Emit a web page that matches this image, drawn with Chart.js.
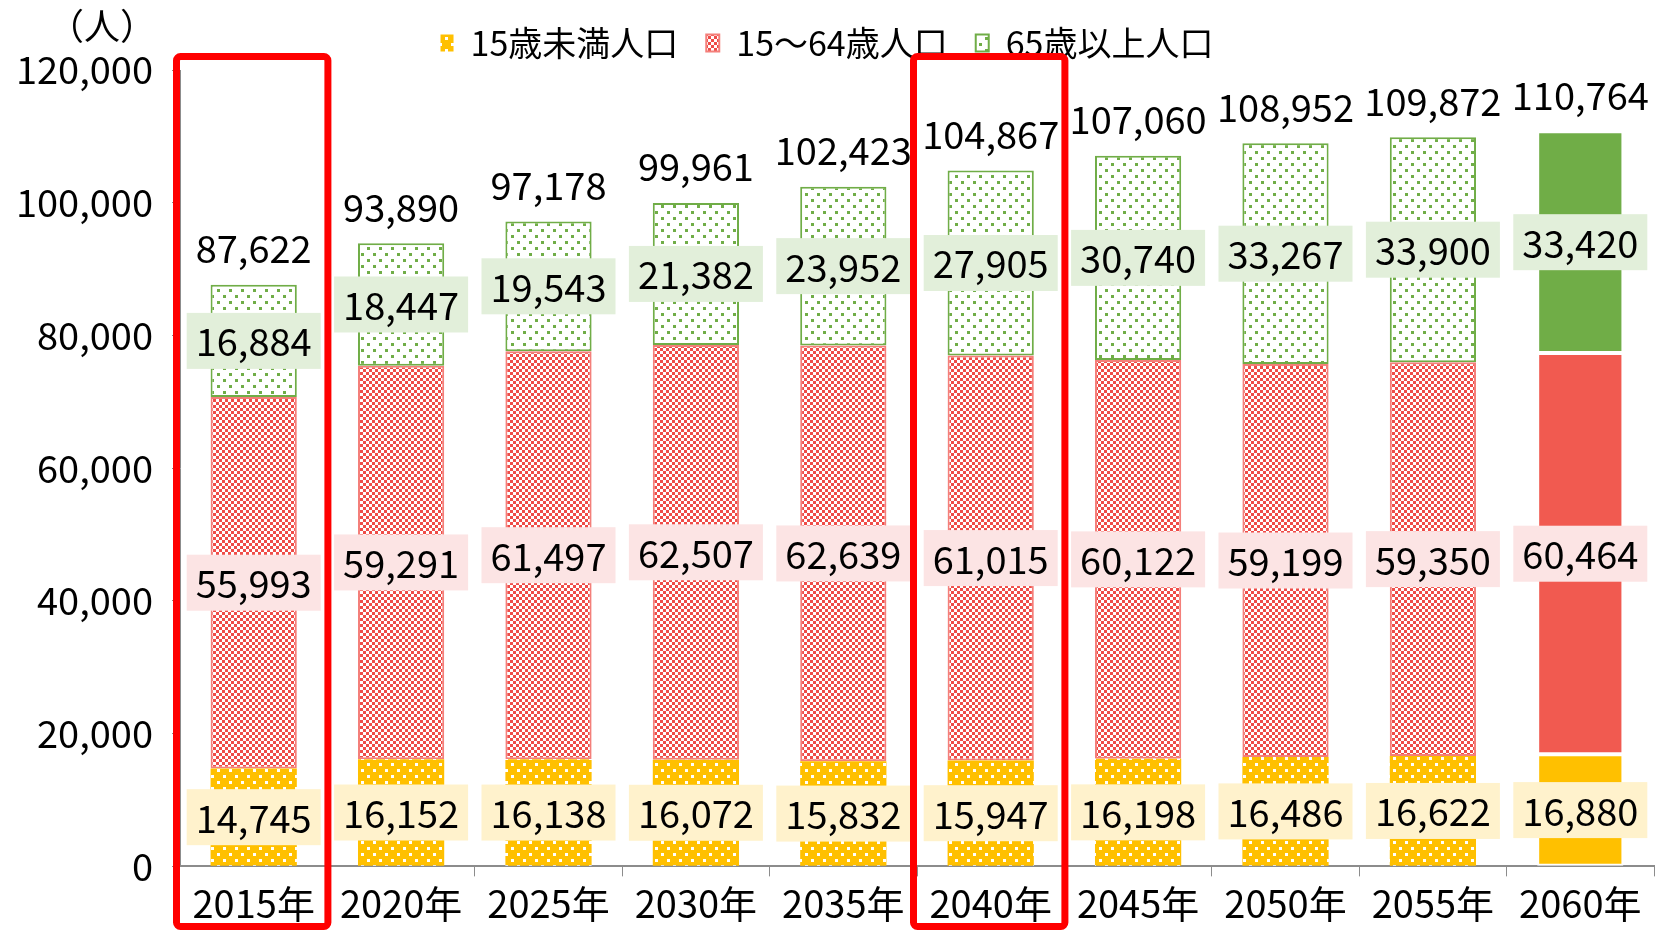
<!DOCTYPE html>
<html>
<head>
<meta charset="utf-8">
<title>人口の推移</title>
<script src="https://cdn.jsdelivr.net/npm/chart.js"></script>
<style>
  html, body { margin: 0; padding: 0; background: #fff; }
  #chartBox { width: 1655px; height: 930px; }
</style>
</head>
<body>
<div id="chartBox"><canvas id="popChart"></canvas></div>
<script>
var years = ['2015年', '2020年', '2025年', '2030年', '2035年', '2040年', '2045年', '2050年', '2055年', '2060年'];
var under15 = [14745, 16152, 16138, 16072, 15832, 15947, 16198, 16486, 16622, 16880];
var age15to64 = [55993, 59291, 61497, 62507, 62639, 61015, 60122, 59199, 59350, 60464];
var over65 = [16884, 18447, 19543, 21382, 23952, 27905, 30740, 33267, 33900, 33420];
var totals = [87622, 93890, 97178, 99961, 102423, 104867, 107060, 108952, 109872, 110764];
var seriesNames = ['15歳未満人口', '15～64歳人口', '65歳以上人口'];
var yMax = 120000;
var yStep = 20000;
var unitLabel = '（人）';
var highlightYears = ['2015年', '2040年'];
var solidYear = '2060年';

var FONT = '"Noto Sans CJK JP", "Noto Sans", sans-serif';
var canvas = document.getElementById('popChart');
var mainCtx = canvas.getContext('2d');

function makePattern(bg, fg, kind) {
    var tile = document.createElement('canvas');
    var size = kind === 'check' ? 6 : 12;
    tile.width = size;
    tile.height = size;
    var c = tile.getContext('2d');
    c.fillStyle = bg;
    c.fillRect(0, 0, size, size);
    c.fillStyle = fg;
    if (kind === 'check') {
        c.fillRect(0, 0, 3, 3);
        c.fillRect(3, 3, 3, 3);
    } else {
        c.fillRect(1, 1, 3, 3);
        c.fillRect(7, 7, 3, 3);
    }
    return mainCtx.createPattern(tile, 'repeat');
}

var yellowDots = makePattern('#FFC000', '#FFFFFF', 'dots');
var redCheck = makePattern('#FFFFFF', '#EF4C48', 'check');
var greenDots = makePattern('#FFFFFF', '#70AD47', 'dots');

function isSolid(c) {
    return c.type === 'data' && years[c.dataIndex] === solidYear;
}

function fmt(v) {
    return v.toLocaleString('en-US');
}

var labelBg = ['#FFF2CC', '#FCE4E4', '#E2EFDA'];

var valueLabels = {
    id: 'valueLabels',
    afterDatasetsDraw: function (chart) {
        var ctx = chart.ctx;
        ctx.save();
        ctx.font = '38px ' + FONT;
        ctx.textAlign = 'center';
        ctx.textBaseline = 'middle';
        chart.data.datasets.forEach(function (ds, i) {
            var meta = chart.getDatasetMeta(i);
            meta.data.forEach(function (bar, j) {
                var text = fmt(ds.data[j]);
                var w = ctx.measureText(text).width + 18;
                var cy = (bar.y + bar.base) / 2;
                ctx.fillStyle = labelBg[i];
                ctx.fillRect(bar.x - w / 2, cy - 28, w, 56);
                ctx.fillStyle = '#000';
                ctx.fillText(text, bar.x, cy + 1);
            });
        });
        var topMeta = chart.getDatasetMeta(chart.data.datasets.length - 1);
        topMeta.data.forEach(function (bar, j) {
            ctx.fillText(fmt(totals[j]), bar.x, bar.y - 36);
        });
        ctx.restore();
    }
};

var extras = {
    id: 'extras',
    afterDraw: function (chart) {
        var ctx = chart.ctx;
        var x = chart.scales.x;
        var area = chart.chartArea;
        var half = (x.getPixelForValue(1) - x.getPixelForValue(0)) / 2;
        ctx.save();
        // unit label
        ctx.font = '36px ' + FONT;
        ctx.fillStyle = '#000';
        ctx.textAlign = 'center';
        ctx.textBaseline = 'middle';
        ctx.fillText(unitLabel, chart.scales.y.right - 78, area.top - 44);
        // red frames
        ctx.strokeStyle = '#FF0000';
        ctx.lineWidth = 7;
        highlightYears.forEach(function (yr) {
            var cx = x.getPixelForValue(years.indexOf(yr));
            var left = cx - half - 3.5;
            var top = area.top - 13.5;
            var w = half * 2 + 4;
            var h = chart.height - 3.5 - top;
            ctx.beginPath();
            if (ctx.roundRect) {
                ctx.roundRect(left, top, w, h, 4);
            } else {
                ctx.rect(left, top, w, h);
            }
            ctx.stroke();
        });
        ctx.restore();
    }
};

var datasets = [
    {
        label: seriesNames[0],
        data: under15,
        backgroundColor: function (c) { return isSolid(c) ? '#FFC000' : yellowDots },
        borderColor: function (c) { return isSolid(c) ? '#FFFFFF' : '#FFC000' },
        borderWidth: function (c) { return isSolid(c) ? 2 : 0 }
    },
    {
        label: seriesNames[1],
        data: age15to64,
        backgroundColor: function (c) { return isSolid(c) ? '#F15A50' : redCheck },
        borderColor: function (c) { return isSolid(c) ? '#FFFFFF' : '#F47F7A' },
        borderWidth: 2
    },
    {
        label: seriesNames[2],
        data: over65,
        backgroundColor: function (c) { return isSolid(c) ? '#70AD47' : greenDots },
        borderColor: function (c) { return isSolid(c) ? '#FFFFFF' : '#70AD47' },
        borderWidth: 2
    }
];

new Chart(canvas, {
    type: 'bar',
    data: { labels: years, datasets: datasets },
    options: {
        responsive: true,
        maintainAspectRatio: false,
        animation: false,
        devicePixelRatio: 1,
        layout: { padding: { top: -2, right: 1, left: 0, bottom: 0 } },
        datasets: {
            bar: { barPercentage: 0.585, categoryPercentage: 1, borderSkipped: false }
        },
        plugins: {
            tooltip: { enabled: false },
            legend: {
                position: 'top',
                labels: {
                    color: '#000',
                    font: { family: FONT, size: 34 },
                    boxWidth: 13,
                    boxHeight: 17,
                    padding: 28
                }
            }
        },
        scales: {
            x: {
                stacked: true,
                grid: { display: true, drawOnChartArea: false, tickLength: 10, color: '#8C8C8C' },
                border: { display: true, color: '#8C8C8C', width: 2 },
                ticks: { color: '#000', font: { family: FONT, size: 38, lineHeight: 0.78 }, padding: 12, maxRotation: 0 }
            },
            y: {
                stacked: true,
                min: 0,
                max: yMax,
                afterFit: function (scale) { scale.width = 180 },
                grid: { display: true, drawOnChartArea: false, tickLength: 8, color: '#8C8C8C' },
                border: { display: true, color: '#8C8C8C', width: 1 },
                ticks: {
                    stepSize: yStep,
                    color: '#000',
                    font: { family: FONT, size: 38 },
                    padding: 19,
                    callback: function (v) { return fmt(v) }
                }
            }
        }
    },
    plugins: [valueLabels, extras]
});
</script>
</body>
</html>
